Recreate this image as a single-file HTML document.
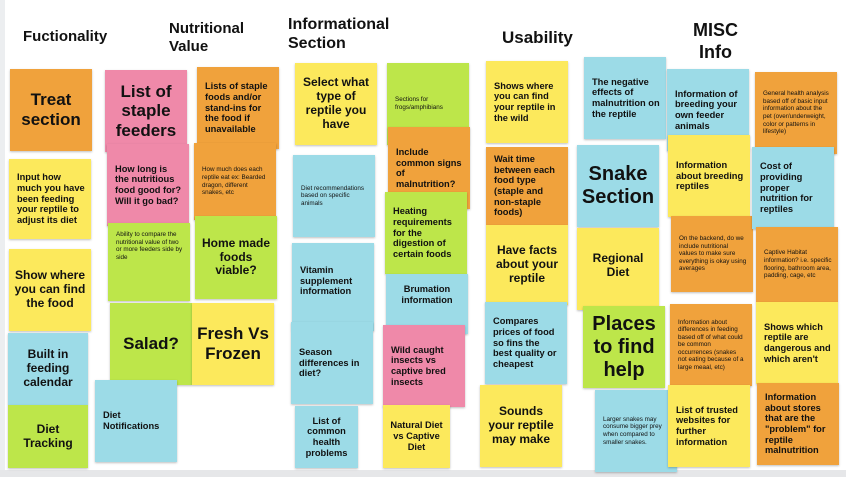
<!DOCTYPE html>
<html><head><meta charset="utf-8"><style>
body{margin:0;width:846px;height:477px;background:#fff;position:relative;overflow:hidden;font-family:"Liberation Sans",sans-serif;font-weight:bold;color:#111}
.n{position:absolute;width:82px;height:82px;display:flex;align-items:center;justify-content:center;box-sizing:border-box;padding:0 5px;text-align:center;box-shadow:0 1px 2px rgba(0,0,0,.25);line-height:1.15}
.l{justify-content:flex-start;text-align:left;padding:0 6px 0 8px}
.o{background:#f0a23c}.y{background:#fce95c}.p{background:#ef89a9}.g{background:#bde64a}.b{background:#9cdbe7}
.h{position:absolute;font-size:15px;line-height:1.2}
.s{font-size:6.3px;font-weight:normal;line-height:1.2}.m{font-size:9.3px}.t{font-size:12px}.x{font-size:17px}.z{font-size:20px}
</style></head><body>
<div style="position:absolute;left:0;top:0;width:5px;height:477px;background:#eceef0"></div>
<div style="position:absolute;left:0;top:470px;width:846px;height:7px;background:#e6e7e9"></div>
<div class="h" style="left:23px;top:28px">Fuctionality</div>
<div class="h" style="left:169px;top:20px">Nutritional<br>Value</div>
<div class="h" style="left:288px;top:15px;font-size:16px">Informational<br>Section</div>
<div class="h" style="left:502px;top:28px;font-size:17px">Usability</div>
<div class="h" style="left:693px;top:20px;font-size:18px;text-align:center">MISC<br>Info</div>

<div class="n o x" style="left:10px;top:69px">Treat section</div>
<div class="n y m l" style="left:9px;top:159px;height:80px">Input how much you have been feeding your reptile to adjust its diet</div>
<div class="n y t" style="left:9px;top:249px">Show where you can find the food</div>
<div class="n b t" style="left:8px;top:333px;width:80px;height:72px">Built in feeding calendar</div>
<div class="n g t" style="left:8px;top:405px;width:80px;height:63px">Diet Tracking</div>

<div class="n p x" style="left:105px;top:70px">List of staple feeders</div>
<div class="n p m l" style="left:107px;top:144px">How long is the nutritious food good for? Will it go bad?</div>
<div class="n g s l" style="left:108px;top:223px;height:78px;align-items:flex-start;padding-top:8px">Ability to compare the nutritional value of two or more feeders side by side</div>
<div class="n g x" style="left:110px;top:303px">Salad?</div>
<div class="n b m l" style="left:95px;top:380px">Diet Notifications</div>

<div class="n o m l" style="left:197px;top:67px">Lists of staple foods and/or stand-ins for the food if unavailable</div>
<div class="n o s l" style="left:194px;top:143px;height:77px">How much does each reptile eat ex: Bearded dragon, different snakes, etc</div>
<div class="n g t" style="left:195px;top:216px;height:83px">Home made foods viable?</div>
<div class="n y x" style="left:192px;top:303px">Fresh Vs Frozen</div>

<div class="n y t" style="left:295px;top:63px">Select what type of reptile you have</div>
<div class="n b s l" style="left:293px;top:155px">Diet recommendations based on specific animals</div>
<div class="n b m l" style="left:292px;top:243px;height:88px;align-items:flex-start;padding-top:22px">Vitamin supplement information</div>
<div class="n b m l" style="left:291px;top:322px">Season differences in diet?</div>
<div class="n b m" style="left:295px;top:406px;width:63px;height:62px">List of common health problems</div>

<div class="n g s l" style="left:387px;top:63px;align-items:flex-start;padding-top:33px">Sections for frogs/amphibians</div>
<div class="n o m l" style="left:388px;top:127px;align-items:flex-start;padding-top:20px">Include common signs of malnutrition?</div>
<div class="n g m l" style="left:385px;top:192px">Heating requirements for the digestion of certain foods</div>
<div class="n b m" style="left:386px;top:274px;height:60px;align-items:flex-start;padding-top:10px">Brumation information</div>
<div class="n p m l" style="left:383px;top:325px">Wild caught insects vs captive bred insects</div>
<div class="n y m" style="left:383px;top:405px;width:67px;height:63px">Natural Diet vs Captive Diet</div>

<div class="n y m l" style="left:486px;top:61px">Shows where you can find your reptile in the wild</div>
<div class="n o m l" style="left:486px;top:147px;height:78px">Wait time between each food type (staple and non-staple foods)</div>
<div class="n y t" style="left:486px;top:225px;height:80px">Have facts about your reptile</div>
<div class="n b m l" style="left:485px;top:302px">Compares prices of food so fins the best quality or cheapest</div>
<div class="n y t" style="left:480px;top:385px">Sounds your reptile may make</div>

<div class="n b m l" style="left:584px;top:57px">The negative effects of malnutrition on the reptile</div>
<div class="n b z" style="left:577px;top:145px;padding:0 2px">Snake Section</div>
<div class="n y t" style="left:577px;top:228px;align-items:flex-start;padding-top:24px">Regional Diet</div>
<div class="n g z" style="left:583px;top:306px;padding:0 2px">Places to find help</div>
<div class="n b s l" style="left:595px;top:390px">Larger snakes may consume bigger prey when compared to smaller snakes.</div>

<div class="n b m l" style="left:667px;top:69px">Information of breeding your own feeder animals</div>
<div class="n y m l" style="left:668px;top:135px">Information about breeding reptiles</div>
<div class="n o s l" style="left:671px;top:216px;height:76px">On the backend, do we include nutritional values to make sure everything is okay using averages</div>
<div class="n o s l" style="left:670px;top:304px">Information about differences in feeding based off of what could be common occurrences (snakes not eating because of a large meaal, etc)</div>
<div class="n y m l" style="left:668px;top:385px">List of trusted websites for further information</div>

<div class="n o s l" style="left:755px;top:72px">General health analysis based off of basic input information about the pet (over/underweight, color or patterns in lifestyle)</div>
<div class="n b m l" style="left:752px;top:147px">Cost of providing proper nutrition for reptiles</div>
<div class="n o s l" style="left:756px;top:227px;height:75px">Captive Habitat information? i.e. specific flooring, bathroom area, padding, cage, etc</div>
<div class="n y m l" style="left:756px;top:302px">Shows which reptile are dangerous and which aren't</div>
<div class="n o m l" style="left:757px;top:383px">Information about stores that are the "problem" for reptile malnutrition</div>
</body></html>
